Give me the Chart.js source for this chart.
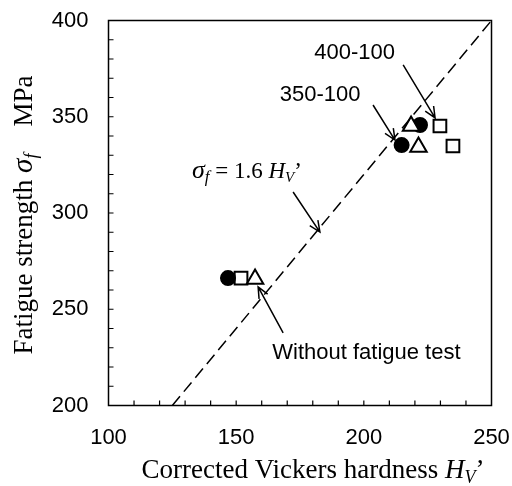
<!DOCTYPE html>
<html>
<head>
<meta charset="utf-8">
<style>
  html, body { margin: 0; padding: 0; background: #fff; }
  #wrap { width: 512px; height: 486px; }
</style>
<script src="https://cdn.jsdelivr.net/npm/chart.js@4/dist/chart.umd.min.js"></script>
</head>
<body>
<div id="wrap"><canvas id="fatigueChart" width="512" height="486"></canvas></div>
<script>
// values
var circleHardness = [146.8, 214.8, 222.0];
var circleStrength = [266.2, 335.3, 345.7];
var squareHardness = [151.9, 229.8, 234.9];
var squareStrength = [266.2, 345.2, 334.8];
var triangleHardness = [157.4, 218.5, 221.4];
var triangleStrength = [265.7, 345.2, 334.3];
var fitHardness = [125, 250];
var fitStrength = [200, 400];
var xTicks = [100, 150, 200, 250];
var yTicks = [200, 250, 300, 350, 400];

// callouts: label text, label position, arrow from -> to (data units)
var callouts = [
  { text: '400-100', at: [196.4, 382.9], from: [215.4, 376.9], to: [227.9, 349.4] },
  { text: '350-100', at: [182.9, 361.3], from: [203.6, 356.1], to: [212.2, 337.9] },
  { text: 'Without fatigue test', at: [201.0, 227.5], from: [168.4, 237.7], to: [158.6, 261.6] },
  { text: null, at: [132.7, 318.2], from: [172.3, 310.9], to: [182.8, 290.1] }
];

(function(){
  'use strict';

  var SERIF = '"Liberation Serif", "Times New Roman", serif';
  var SANS = '"Liberation Sans", Arial, sans-serif';

  function pts(xs, ys){
    return xs.map(function(x, i){ return { x: x, y: ys[i] }; });
  }

  // draw a row of text pieces with different fonts
  function drawRuns(ctx, x, y, runs, align){
    var total = 0;
    runs.forEach(function(r){ ctx.font = r.font; r.w = ctx.measureText(r.t).width; total += r.w; });
    var cx = align === 'center' ? x - total / 2 : x;
    runs.forEach(function(r){
      ctx.font = r.font;
      ctx.fillText(r.t, cx, y + (r.dy || 0));
      cx += r.w;
    });
  }

  function arrow(ctx, x1, y1, x2, y2){
    var a = Math.atan2(y2 - y1, x2 - x1);
    var h = 12, s = 0.42;
    ctx.beginPath();
    ctx.moveTo(x1, y1);
    ctx.lineTo(x2, y2);
    ctx.moveTo(x2 - h * Math.cos(a - s), y2 - h * Math.sin(a - s));
    ctx.lineTo(x2, y2);
    ctx.lineTo(x2 - h * Math.cos(a + s), y2 - h * Math.sin(a + s));
    ctx.stroke();
  }

  var decor = {
    id: 'decor',
    afterDatasetsDraw: function(chart){
      var ctx = chart.ctx, a = chart.chartArea;
      var xs = chart.scales.x, ys = chart.scales.y;
      ctx.save();
      ctx.strokeStyle = '#000';
      ctx.fillStyle = '#000';

      // frame
      ctx.lineWidth = 1.5;
      ctx.strokeRect(a.left, a.top, a.right - a.left, a.bottom - a.top);

      // inward minor ticks
      ctx.lineWidth = 1.2;
      ctx.beginPath();
      var v;
      for (v = 110; v < 250; v += 10) {
        var px = xs.getPixelForValue(v);
        ctx.moveTo(px, a.bottom);
        ctx.lineTo(px, a.bottom - 5);
      }
      for (v = 210; v < 400; v += 10) {
        var py = ys.getPixelForValue(v);
        ctx.moveTo(a.left, py);
        ctx.lineTo(a.left + 5, py);
      }
      ctx.stroke();

      // callouts
      ctx.lineWidth = 1.5;
      ctx.textBaseline = 'middle';
      callouts.forEach(function(c){
        arrow(ctx, xs.getPixelForValue(c.from[0]), ys.getPixelForValue(c.from[1]),
                   xs.getPixelForValue(c.to[0]), ys.getPixelForValue(c.to[1]));
        if (c.text) {
          ctx.font = '22px ' + SANS;
          ctx.textAlign = 'center';
          ctx.fillText(c.text, xs.getPixelForValue(c.at[0]), ys.getPixelForValue(c.at[1]));
        }
      });

      // sigma_f = 1.6 HV' label
      ctx.textAlign = 'left';
      ctx.textBaseline = 'alphabetic';
      var eq = callouts[3].at;
      drawRuns(ctx, xs.getPixelForValue(eq[0]), ys.getPixelForValue(eq[1]), [
        { t: 'σ', font: 'italic 26px ' + SERIF },
        { t: 'f', font: 'italic 17px ' + SERIF, dy: 4 },
        { t: ' = 1.6 ', font: '23px ' + SERIF },
        { t: 'H', font: 'italic 23px ' + SERIF },
        { t: 'V', font: 'italic 15px ' + SERIF, dy: 4 },
        { t: '’', font: '23px ' + SERIF }
      ], 'left');

      // x axis title
      drawRuns(ctx, (a.left + a.right) / 2 + 13, 478, [
        { t: 'Corrected Vickers hardness ', font: '27px ' + SERIF },
        { t: 'H', font: 'italic 27px ' + SERIF },
        { t: 'V', font: 'italic 18px ' + SERIF, dy: 5 },
        { t: '’', font: '27px ' + SERIF }
      ], 'center');

      // y axis title
      ctx.translate(32, (a.top + a.bottom) / 2 + 2);
      ctx.rotate(-Math.PI / 2);
      drawRuns(ctx, 0, 0, [
        { t: 'Fatigue strength ', font: '27px ' + SERIF },
        { t: 'σ', font: 'italic 29px ' + SERIF },
        { t: 'f', font: 'italic 18px ' + SERIF, dy: 5 },
        { t: '    MPa', font: '27px ' + SERIF }
      ], 'center');

      ctx.restore();
    }
  };

  function initChart(){
    if (!window.Chart) return;
    var ctx = document.getElementById('fatigueChart');
    var marker = { borderColor: '#000', borderWidth: 2, pointHoverRadius: 0, showLine: false };
    new Chart(ctx, {
      type: 'scatter',
      data: {
        datasets: [
          { label: 'fit', type: 'line', data: pts(fitHardness, fitStrength), borderColor: '#000',
            borderWidth: 1.5, borderDash: [12, 6], pointRadius: 0, fill: false },
          Object.assign({ label: 'triangle', data: pts(triangleHardness, triangleStrength),
            pointStyle: 'triangle', pointRadius: 9.5, backgroundColor: '#fff' }, marker),
          Object.assign({ label: 'circle', data: pts(circleHardness, circleStrength),
            pointStyle: 'circle', pointRadius: 7, backgroundColor: '#000' }, marker),
          Object.assign({ label: 'square', data: pts(squareHardness, squareStrength),
            pointStyle: 'rect', pointRadius: 9, backgroundColor: '#fff' }, marker)
        ]
      },
      options: {
        responsive: false,
        animation: false,
        events: [],
        layout: { padding: { top: 20.5, right: 20.5, left: 0, bottom: 0 } },
        plugins: { legend: { display: false }, tooltip: { enabled: false } },
        scales: {
          x: {
            type: 'linear', min: 100, max: 250,
            afterBuildTicks: function(s){ s.ticks = xTicks.map(function(v){ return { value: v }; }); },
            afterFit: function(s){ s.height = 80.5; s.paddingLeft = 0; s.paddingRight = 0; },
            grid: { display: false, drawTicks: false },
            border: { display: false },
            ticks: { padding: 19, color: '#000', font: { family: SANS, size: 22 }, maxRotation: 0 }
          },
          y: {
            type: 'linear', min: 200, max: 400,
            afterBuildTicks: function(s){ s.ticks = yTicks.map(function(v){ return { value: v }; }); },
            afterFit: function(s){ s.width = 108.5; s.paddingTop = 0; s.paddingBottom = 0; },
            grid: { display: false, drawTicks: false },
            border: { display: false },
            ticks: { padding: 20, color: '#000', font: { family: SANS, size: 22 } }
          }
        }
      },
      plugins: [decor]
    });
  }

  document.addEventListener('DOMContentLoaded', initChart);
})();
</script>
</body>
</html>
